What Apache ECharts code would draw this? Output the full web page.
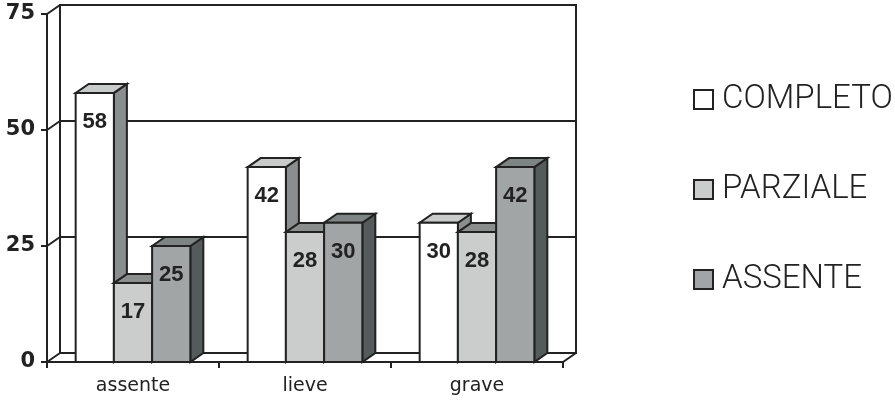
<!DOCTYPE html>
<html>
<head>
<meta charset="utf-8">
<style>
  html, body { margin: 0; padding: 0; background: #ffffff; }
  #chart { width: 895px; height: 405px; }
</style>
<script src="https://cdn.jsdelivr.net/npm/echarts@6/dist/echarts.min.js"></script>
</head>
<body>
<div id="chart"></div>
<script>
// Categories and values
const categories = ['assente', 'lieve', 'grave'];
const seriesNames = ['COMPLETO', 'PARZIALE', 'ASSENTE'];
const completoValues = [58, 42, 30];
const parzialeValues = [17, 28, 28];
const assenteValues = [25, 30, 42];
const yTicks = [0, 25, 50, 75];

// Depth of the pseudo-3D box (pixels)
const DX = 13, DY = -9;
const INK = '#222222';

// Face colours per series: front, top, side
const faces = [
  { front: '#ffffff', top: '#c9cbca', side: '#8a8e8e' },
  { front: '#cbcdcc', top: '#8a8e8d', side: '#6b7070' },
  { front: '#a1a5a6', top: '#7e8483', side: '#555b5a' }
];

const GRID = { left: 47, right: 332, top: 14, bottom: 43 };

function barRenderer(idx) {
  return function (params, api) {
    const cat = api.value(0);
    const v = api.value(1);
    const base = api.coord([cat, 0]);
    const topPt = api.coord([cat, v]);
    const band = api.size([1, 0])[0];
    const bw = band / 4.5;
    const x0 = base[0] - 1.5 * bw + idx * bw;
    const x1 = x0 + bw;
    const yt = topPt[1], yb = base[1];
    const f = faces[idx];
    const stroke = { stroke: INK, lineWidth: 2, lineJoin: 'miter' };
    return {
      type: 'group',
      children: [
        { type: 'polygon',
          shape: { points: [[x1, yt], [x1 + DX, yt + DY], [x1 + DX, yb + DY], [x1, yb]] },
          style: Object.assign({ fill: f.side }, stroke) },
        { type: 'polygon',
          shape: { points: [[x0, yt], [x1, yt], [x1 + DX, yt + DY], [x0 + DX, yt + DY]] },
          style: Object.assign({ fill: f.top }, stroke) },
        { type: 'rect',
          shape: { x: x0, y: yt, width: bw, height: yb - yt },
          style: Object.assign({ fill: f.front }, stroke) },
        { type: 'text',
          style: { x: (x0 + x1) / 2, y: yt + 29, text: String(v),
                   align: 'center', verticalAlign: 'middle',
                   font: 'bold 22px "Liberation Sans", Arial, sans-serif',
                   fill: INK } }
      ]
    };
  };
}

// Side wall and floor edges joining the front axes to the back wall
function frameRenderer(params, api) {
  const v = api.value(1);
  const band = api.size([1, 0])[0];
  const left = api.coord([0, v])[0] - band / 2;
  const y = api.coord([0, v])[1];
  const children = [
    { type: 'line', shape: { x1: left, y1: y, x2: left + DX, y2: y + DY },
      style: { stroke: INK, lineWidth: 2 } }
  ];
  if (v === 0) {
    const right = api.coord([categories.length - 1, v])[0] + band / 2;
    children.push({ type: 'line', shape: { x1: right, y1: y, x2: right + DX, y2: y + DY },
      style: { stroke: INK, lineWidth: 2 } });
  }
  return { type: 'group', children: children };
}

const valueSets = [completoValues, parzialeValues, assenteValues];

const chart = echarts.init(document.getElementById('chart'), null, { renderer: 'canvas' });

chart.setOption({
  backgroundColor: '#ffffff',
  animation: false,
  grid: [
    Object.assign({}, GRID),
    { left: GRID.left + DX, right: GRID.right - DX, top: GRID.top + DY, bottom: GRID.bottom - DY,
      show: true, borderColor: INK, borderWidth: 2, backgroundColor: 'transparent', z: 0 }
  ],
  xAxis: [
    { type: 'category', gridIndex: 0, data: categories, boundaryGap: true,
      axisLine: { show: true, lineStyle: { color: INK, width: 2 } },
      axisTick: { show: true, length: 6, interval: 0, lineStyle: { color: INK, width: 2 } },
      axisLabel: { margin: 15, color: INK, fontSize: 19, fontFamily: '"DejaVu Sans", Verdana, sans-serif' },
      z: 3 },
    { type: 'category', gridIndex: 1, data: categories, show: false }
  ],
  yAxis: [
    { type: 'value', gridIndex: 0, min: 0, max: 75, interval: 25,
      axisLine: { show: true, lineStyle: { color: INK, width: 2 } },
      axisTick: { show: true, length: 6, lineStyle: { color: INK, width: 2 } },
      splitLine: { show: false },
      axisLabel: { margin: 12, color: INK, fontSize: 21, fontWeight: 'bold',
                   fontFamily: '"DejaVu Sans", Verdana, sans-serif' },
      z: 3 },
    { type: 'value', gridIndex: 1, min: 0, max: 75, interval: 25,
      axisLine: { show: false }, axisTick: { show: false }, axisLabel: { show: false },
      splitLine: { show: true, lineStyle: { color: INK, width: 2 } } }
  ],
  legend: {
    orient: 'vertical',
    left: 693,
    top: 83,
    padding: 0,
    itemWidth: 19,
    itemHeight: 19,
    itemGap: 57,
    icon: 'rect',
    selectedMode: false,
    textStyle: { color: INK, fontSize: 33, lineHeight: 32, fontWeight: 300,
                 fontFamily: 'Roboto, "Open Sans", sans-serif', padding: [0, 0, 0, 4] },
    data: seriesNames.map((n, i) => ({
      name: n,
      itemStyle: { color: faces[i].front, borderColor: INK, borderWidth: 2 }
    }))
  },
  series: [
    {
      type: 'custom', name: 'frame', xAxisIndex: 0, yAxisIndex: 0,
      renderItem: frameRenderer,
      data: yTicks.map(t => [0, t]),
      silent: true, z: 1
    }
  ].concat(seriesNames.map((name, i) => ({
    type: 'custom',
    name: name,
    xAxisIndex: 0, yAxisIndex: 0,
    renderItem: barRenderer(i),
    itemStyle: { color: faces[i].front, borderColor: INK, borderWidth: 2 },
    data: valueSets[i].map((v, j) => [j, v]),
    z: 4 + i
  })))
});
</script>
</body>
</html>
